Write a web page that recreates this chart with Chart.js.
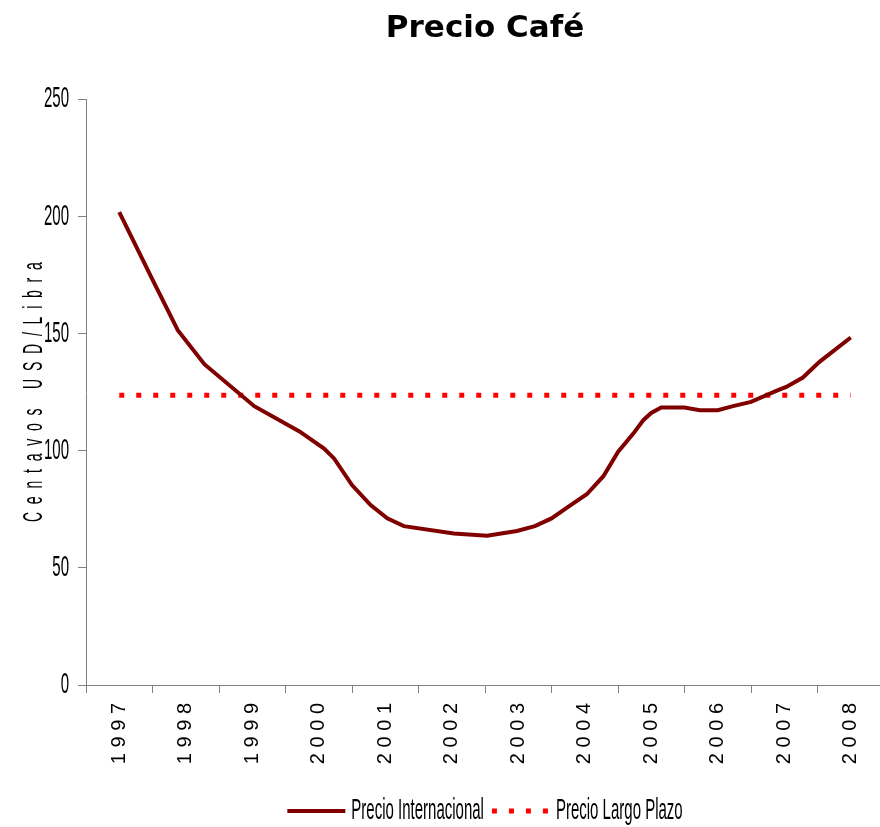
<!DOCTYPE html>
<html>
<head>
<meta charset="utf-8">
<script src="https://cdn.jsdelivr.net/npm/chart.js@4/dist/chart.umd.min.js"></script>
<style>
  html, body { margin: 0; padding: 0; background: #fff; overflow: hidden; }
  #wrap { width: 886px; height: 827px; }
</style>
</head>
<body>
<div id="wrap"><canvas id="c" width="886" height="827" style="width:886px;height:827px"></canvas></div>
<script>
// ---- data ----
const chartTitle = 'Precio Café';
const yAxisTitle = 'Centavos USD/Libra';
const years = ['1997','1998','1999','2000','2001','2002','2003','2004','2005','2006','2007','2008'];
const seriesNames = ['Precio Internacional', 'Precio Largo Plazo'];
// time position (decimal year) of each reading of the international price
const dates = [1997.5, 1998.0, 1998.38, 1998.78, 1999.53, 2000.21, 2000.58, 2000.73, 2001.0, 2001.28,
               2001.53, 2001.78, 2002.53, 2003.03, 2003.48, 2003.75, 2004.0, 2004.25, 2004.53, 2004.78,
               2005.0, 2005.23, 2005.38, 2005.5, 2005.65, 2006.0, 2006.23, 2006.5, 2006.73, 2007.0,
               2007.38, 2007.53, 2007.78, 2008.03, 2008.5];
const prices = [201.8, 173.0, 151.4, 136.9, 119.0, 108.2, 100.9, 96.7, 85.3, 76.8,
                71.1, 67.8, 64.7, 63.7, 65.7, 67.8, 71.1, 76.0, 81.4, 89.1,
                99.5, 107.3, 113.0, 116.1, 118.4, 118.4, 117.3, 117.3, 119.0, 120.8,
                125.5, 127.2, 131.2, 137.9, 148.3];
const longTermPrice = 123.7;
const yTicks = [0, 50, 100, 150, 200, 250];

// ---- condensed text rendering (the reference uses a very narrow face) ----
// family markers -> horizontal / vertical text scaling
const narrow = "'Liberation Sans Narrow', 'Liberation Sans', Arial, sans-serif";
const narrowLegend = "'Liberation Sans Narrow Legend', 'Liberation Sans', Arial, sans-serif";
const textScales = [
  { re: /Narrow Legend/, sx: 1.25, sy: 2.5 },
  { re: /Narrow/, sx: 0.5, sy: 1 }
];
const canvas = document.getElementById('c');
const g = canvas.getContext('2d');
const origFill = g.fillText.bind(g);
const origMeasure = g.measureText.bind(g);
const scaleFor = () => textScales.find(s => s.re.test(g.font));
g.fillText = function (text, x, y, maxWidth) {
  const s = scaleFor();
  if (s) {
    g.save();
    g.translate(x, y);
    g.scale(s.sx, s.sy);
    origFill(text, 0, 0);
    g.restore();
  } else {
    if (maxWidth === undefined) origFill(text, x, y); else origFill(text, x, y, maxWidth);
  }
};
g.measureText = function (text) {
  const m = origMeasure(text);
  const s = scaleFor();
  if (s) {
    return {
      width: m.width * s.sx,
      actualBoundingBoxAscent: m.actualBoundingBoxAscent * s.sy,
      actualBoundingBoxDescent: m.actualBoundingBoxDescent * s.sy,
      actualBoundingBoxLeft: m.actualBoundingBoxLeft * s.sx,
      actualBoundingBoxRight: m.actualBoundingBoxRight * s.sx
    };
  }
  return m;
};

// ---- chart ----
const spacedYear = s => s.split('').join(' ');
const spacedTitle = s => s.split(' ').map(w => w.split('').join('  ')).join('     ');
const firstYear = Number(years[0]);
const lastYear = Number(years[years.length - 1]) + 1;

const intlData = dates.map((d, i) => ({ x: d, y: prices[i] }));
const longData = [ { x: dates[0], y: longTermPrice }, { x: dates[dates.length - 1], y: longTermPrice } ];

new Chart(canvas, {
  type: 'line',
  data: {
    datasets: [
      {
        label: seriesNames[0],
        data: intlData,
        borderColor: '#800000',
        backgroundColor: '#800000',
        borderWidth: 4,
        pointRadius: 0,
        tension: 0,
        fill: false
      },
      {
        label: seriesNames[1],
        data: longData,
        borderColor: '#ff0000',
        backgroundColor: '#ff0000',
        borderWidth: 5,
        borderDash: [5, 12],
        borderCapStyle: 'butt',
        pointRadius: 0,
        fill: false
      }
    ]
  },
  options: {
    responsive: false,
    animation: false,
    devicePixelRatio: 1,
    layout: { padding: { left: 0, right: 2, top: 0, bottom: 0 } },
    plugins: {
      tooltip: { enabled: false },
      title: {
        display: true,
        text: chartTitle,
        fullSize: false,
        color: '#000',
        font: { family: "'DejaVu Sans', sans-serif", size: 31, weight: 'bold' },
        padding: { top: 10, bottom: 52 }
      },
      legend: {
        display: true,
        position: 'bottom',
        fullSize: false,
        labels: {
          usePointStyle: true,
          pointStyle: 'line',
          pointStyleWidth: 58,
          boxWidth: 58,
          padding: 8,
          color: '#000',
          font: { family: narrowLegend, size: 12 },
          generateLabels: (chart) => Chart.defaults.plugins.legend.labels.generateLabels(chart).map(item => {
            const ds = chart.data.datasets[item.datasetIndex];
            item.lineDash = ds.borderDash || [];
            item.lineWidth = ds.borderWidth;
            item.strokeStyle = ds.borderColor;
            item.fillStyle = ds.borderColor;
            item.lineCap = 'butt';
            return item;
          })
        }
      }
    },
    scales: {
      x: {
        type: 'linear',
        min: firstYear,
        max: lastYear,
        afterBuildTicks: (scale) => {
          const t = [];
          for (let i = 0; i <= years.length; i++) {
            t.push({ value: firstYear + i });
            if (i < years.length) t.push({ value: firstYear + i + 0.5 });
          }
          scale.ticks = t;
        },
        ticks: {
          autoSkip: false,
          maxRotation: 90,
          minRotation: 90,
          padding: 10,
          color: '#000',
          font: { family: "'Liberation Sans', Arial, sans-serif", size: 20 },
          callback: (v) => {
            const idx = v - firstYear - 0.5;
            if (Number.isInteger(idx) && idx >= 0 && idx < years.length) return spacedYear(years[idx]);
            return '';
          }
        },
        grid: {
          drawOnChartArea: false,
          drawTicks: true,
          tickLength: 8,
          lineWidth: 1,
          color: (ctx) => (ctx.tick && Number.isInteger(ctx.tick.value)) ? '#808080' : 'rgba(0,0,0,0)'
        },
        border: { display: true, color: '#808080', width: 1 },
        afterFit: (scale) => {
          scale.height = 112;
          scale.paddingLeft = 0;
          scale.paddingRight = 0;
        }
      },
      y: {
        type: 'linear',
        min: 0,
        max: 250,
        afterBuildTicks: (scale) => { scale.ticks = yTicks.map(v => ({ value: v })); },
        ticks: {
          padding: 9,
          color: '#000',
          font: { family: narrow, size: 30 }
        },
        grid: {
          drawOnChartArea: false,
          drawTicks: true,
          tickLength: 8,
          color: '#808080'
        },
        border: { display: true, color: '#808080', width: 1 },
        title: {
          display: true,
          text: spacedTitle(yAxisTitle),
          color: '#000',
          font: { family: narrow, size: 28 },
          padding: { top: 17, bottom: 0 }
        },
        afterFit: (scale) => {
          scale.width = 86;
          scale.paddingTop = 0;
          scale.paddingBottom = 0;
        }
      }
    }
  }
});
</script>
</body>
</html>
